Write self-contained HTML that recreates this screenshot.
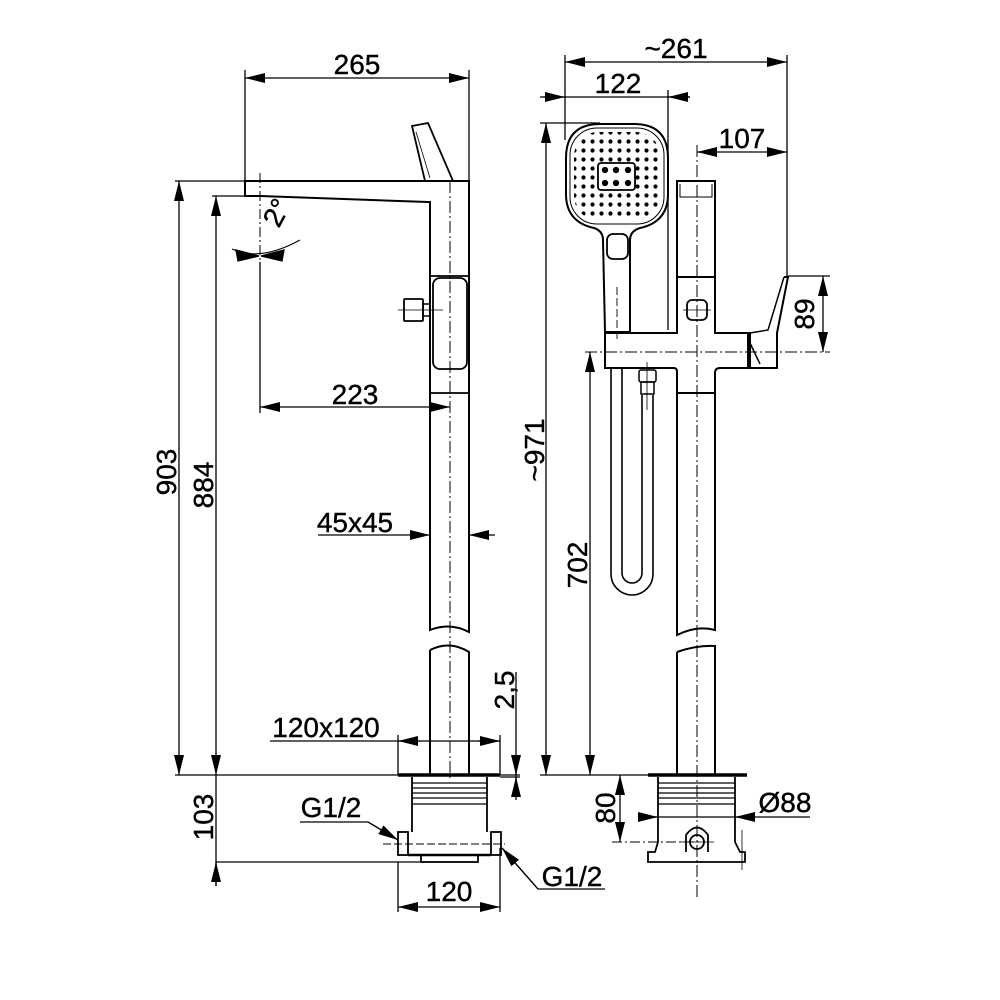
<!DOCTYPE html>
<html><head><meta charset="utf-8"><style>
html,body{margin:0;padding:0;background:#fff;}
svg{display:block;}
text{font-family:"Liberation Sans",Arial,sans-serif;font-size:28px;fill:#000;stroke:#000;stroke-width:0.4;}
</style></head><body>
<svg width="1000" height="1000" viewBox="0 0 1000 1000" xmlns="http://www.w3.org/2000/svg">
<defs>
<marker id="a" viewBox="0 0 20 10" refX="20" refY="5" markerUnits="userSpaceOnUse" markerWidth="20" markerHeight="10" orient="auto-start-reverse"><path d="M0,0L20,5L0,10z" fill="#000"/></marker>
<pattern id="dots" x="570" y="128" width="9" height="9" patternUnits="userSpaceOnUse"><circle cx="4.5" cy="4.5" r="2.1" fill="#000"/></pattern>
<clipPath id="hc"><rect x="574" y="132" width="86" height="88" rx="24"/></clipPath>
</defs>
<g fill="none" stroke="#000" stroke-width="1.3">
<!-- ===== LEFT VIEW ===== -->
<line x1="245" y1="70" x2="245" y2="196"/>
<line x1="469" y1="70" x2="469" y2="181"/>
<line x1="245" y1="78" x2="469" y2="78" marker-start="url(#a)" marker-end="url(#a)"/>
<path d="M412,126 L428,123 L453,181 L425,181 Z" stroke-width="1.8"/>
<path d="M416,132 L430,178" stroke-width="0.8"/>
<path d="M245,181 L469,181 L469,632 Q450,622 430,630 L430,202 L428,202 L260,196 L245,196 Z" stroke-width="2"/>
<path d="M430,650 Q450,640 469,652 L469,775 M430,650 L430,775" stroke-width="2"/>
<line x1="450" y1="181" x2="450" y2="780" stroke-dasharray="12 3 2 3" stroke-width="1"/>
<line x1="430" y1="276" x2="469" y2="276" stroke-width="1.8"/>
<line x1="430" y1="393" x2="469" y2="393" stroke-width="1.8"/>
<rect x="433" y="278" width="34" height="91" rx="7" stroke-width="1.8"/>
<rect x="404" y="299" width="19" height="22" rx="1" stroke-width="1.8"/>
<rect x="423" y="304" width="7" height="12" stroke-width="1.5"/>
<line x1="398" y1="310" x2="443" y2="310" stroke-width="0.8"/>
<line x1="260" y1="173" x2="260" y2="262" stroke-dasharray="10 3 2 3" stroke-width="1"/>
<path d="M232,249 Q260,262 300,240" stroke-width="1"/>
<path d="M236,250 L259,256 L238,261Z M284,250 L261,256 L282,261Z" fill="#000"/>
<line x1="260" y1="262" x2="260" y2="413"/>
<line x1="260" y1="407" x2="450" y2="407" marker-start="url(#a)" marker-end="url(#a)"/>
<line x1="175" y1="181" x2="245" y2="181"/>
<line x1="212" y1="196" x2="245" y2="196"/>
<line x1="179" y1="181" x2="179" y2="775" marker-start="url(#a)" marker-end="url(#a)"/>
<line x1="216" y1="196" x2="216" y2="775" marker-start="url(#a)" marker-end="url(#a)"/>
<line x1="216" y1="775" x2="216" y2="886"/>
<line x1="216" y1="886" x2="216" y2="862" marker-end="url(#a)"/>
<line x1="175" y1="775" x2="398" y2="775"/>
<line x1="216" y1="862" x2="420" y2="862"/>
<line x1="318" y1="535" x2="430" y2="535" marker-end="url(#a)"/>
<line x1="495" y1="535" x2="469" y2="535" marker-end="url(#a)"/>
<line x1="270" y1="741" x2="500" y2="741"/>
<line x1="420" y1="741" x2="398" y2="741" marker-end="url(#a)"/>
<line x1="478" y1="741" x2="500" y2="741" marker-end="url(#a)"/>
<line x1="398" y1="735" x2="398" y2="775"/>
<line x1="500" y1="735" x2="500" y2="775"/>
<line x1="398" y1="775" x2="500" y2="775" stroke-width="3.5"/>
<line x1="500" y1="775" x2="520" y2="775"/>
<line x1="500" y1="777" x2="520" y2="777"/>
<path d="M412,777 L412,832 M487,777 L487,832" stroke-width="1.8"/>
<path d="M412,783 H487 M412,788 H487 M412,793 H487 M412,798 H487 M412,804 H487" stroke-width="1.2"/>
<rect x="398" y="832" width="10" height="23" stroke-width="1.8"/>
<rect x="491" y="832" width="10" height="23" stroke-width="1.8"/>
<path d="M408,855 H491" stroke-width="2.5"/>
<rect x="421" y="855" width="57" height="7" stroke-width="1.8"/>
<line x1="383" y1="844" x2="505" y2="844" stroke-dasharray="8 3" stroke-width="0.9"/>
<line x1="516" y1="672" x2="516" y2="800"/>
<line x1="516" y1="755" x2="516" y2="775" marker-end="url(#a)"/>
<line x1="516" y1="797" x2="516" y2="777" marker-end="url(#a)"/>
<path d="M300,822 H368 L398,840"/>
<line x1="368" y1="822" x2="398" y2="840" marker-end="url(#a)"/>
<path d="M605,889 H538 L502,848"/>
<line x1="538" y1="889" x2="502" y2="848" marker-end="url(#a)"/>
<line x1="398" y1="862" x2="398" y2="912"/>
<line x1="500" y1="848" x2="500" y2="912"/>
<line x1="398" y1="907" x2="500" y2="907" marker-start="url(#a)" marker-end="url(#a)"/>

<!-- ===== RIGHT VIEW ===== -->
<line x1="565" y1="55" x2="565" y2="140"/>
<line x1="787" y1="55" x2="787" y2="277"/>
<line x1="565" y1="62" x2="787" y2="62" marker-start="url(#a)" marker-end="url(#a)"/>
<line x1="668" y1="90" x2="668" y2="330"/>
<line x1="540" y1="97" x2="690" y2="97"/>
<line x1="543" y1="97" x2="565" y2="97" marker-end="url(#a)"/>
<line x1="690" y1="97" x2="668" y2="97" marker-end="url(#a)"/>
<line x1="697" y1="152" x2="787" y2="152" marker-start="url(#a)" marker-end="url(#a)"/>
<line x1="697" y1="145" x2="697" y2="900" stroke-dasharray="12 3 2 3" stroke-width="1"/>
<line x1="540" y1="123" x2="600" y2="123"/>
<line x1="546" y1="123" x2="546" y2="775" marker-start="url(#a)" marker-end="url(#a)"/>
<path d="M600,124 H634 Q668,124 668,158 V194 Q668,222 640,228 Q630,231 630,240 L630,332 H605 L603,240 Q603,231 594,228 Q566,222 566,194 V158 Q566,124 600,124 Z" stroke-width="2"/>
<rect x="570" y="128" width="94" height="96" rx="27" stroke-width="1"/>
<rect x="569" y="127" width="96" height="98" fill="url(#dots)" stroke="none" clip-path="url(#hc)"/>
<rect x="598" y="163" width="37" height="27" rx="3" fill="#fff" stroke-width="1.8"/>
<circle cx="605" cy="170" r="2.5" fill="#000"/><circle cx="616" cy="170" r="2.5" fill="#000"/><circle cx="628" cy="170" r="2.5" fill="#000"/>
<circle cx="605" cy="183" r="2.5" fill="#000"/><circle cx="616" cy="183" r="2.5" fill="#000"/><circle cx="628" cy="183" r="2.5" fill="#000"/>
<rect x="607" y="234" width="21" height="25" rx="6" stroke-width="1.8"/>
<line x1="617" y1="287" x2="617" y2="340" stroke-dasharray="8 3" stroke-width="0.9"/>
<rect x="677" y="181" width="38" height="96" stroke-width="2"/>
<path d="M680,184 V197 H712 V184" stroke-width="1"/>
<path d="M677,277 V333 H605 V368 H674 Q677,368 677,372 V393 M715,277 V333 H748 V368 H720 Q715,368 715,373 V393" stroke-width="2"/>
<path d="M677,393 H715 M677,393 V635 Q697,625 715,630 V393" stroke-width="2"/>
<path d="M677,652 Q697,645 715,646 V775 M677,652 V775" stroke-width="2"/>
<rect x="687" y="300" width="20" height="20" rx="5" stroke-width="1.8"/>
<line x1="683" y1="310" x2="711" y2="310" stroke-width="0.8"/>
<path d="M784,277 H788 L777,333 V368 H750 V333 L748,333" stroke-width="2"/>
<path d="M784,277 L768,330 L750,333 M750,343 L760,364" stroke-width="1.5"/>
<line x1="788" y1="276" x2="830" y2="276"/>
<line x1="823" y1="276" x2="823" y2="352" marker-start="url(#a)" marker-end="url(#a)"/>
<line x1="585" y1="352" x2="830" y2="352" stroke-dasharray="12 3 2 3" stroke-width="1"/>
<line x1="590" y1="352" x2="590" y2="775" marker-start="url(#a)" marker-end="url(#a)"/>
<path d="M611,368 V574 A21,21 0 0 0 653,574 V395" stroke-width="1.6"/>
<path d="M622,368 V573 A10,10 0 0 0 642,573 V395" stroke-width="1.6"/>
<rect x="639" y="370" width="17" height="12" rx="2" stroke-width="1.5"/>
<rect x="641" y="382" width="13" height="12" stroke-width="1.5"/>
<line x1="647" y1="362" x2="647" y2="410" stroke-width="0.8"/>
<line x1="540" y1="775" x2="648" y2="775"/>
<line x1="648" y1="775" x2="747" y2="775" stroke-width="3.5"/>
<path d="M658,777 V842 M735,777 V842" stroke-width="1.8"/>
<path d="M658,783 H735 M658,788 H735 M658,793 H735 M658,798 H735 M658,804 H735" stroke-width="1.2"/>
<path d="M658,842 L655,852 H648 V862 H745 V852 H740 L735,842" stroke-width="1.8"/>
<path d="M686,852 V835 Q697,820 708,835 V852" stroke-width="1.8"/>
<circle cx="697" cy="842" r="7" stroke-width="1.8"/>
<line x1="680" y1="842" x2="714" y2="842" stroke-width="0.8"/>
<line x1="742" y1="830" x2="742" y2="870" stroke-width="0.8"/>
<line x1="612" y1="842" x2="700" y2="842" stroke-dasharray="10 3 2 3" stroke-width="1"/>
<line x1="620" y1="775" x2="620" y2="842" marker-start="url(#a)" marker-end="url(#a)"/>
<line x1="638" y1="817" x2="810" y2="817"/>
<line x1="638" y1="817" x2="658" y2="817" marker-end="url(#a)"/>
<line x1="755" y1="817" x2="735" y2="817" marker-end="url(#a)"/>
</g>
<text x="357" y="74" text-anchor="middle">265</text>
<text x="355" y="404" text-anchor="middle">223</text>
<text x="355" y="532" text-anchor="middle">45x45</text>
<text x="326" y="737" text-anchor="middle">120x120</text>
<text x="331" y="817" text-anchor="middle">G1/2</text>
<text x="572" y="886" text-anchor="middle">G1/2</text>
<text x="449" y="901" text-anchor="middle">120</text>
<text transform="translate(285,217) rotate(-62)" text-anchor="middle">2°</text>
<text transform="translate(176,472) rotate(-90)" text-anchor="middle">903</text>
<text transform="translate(213,485) rotate(-90)" text-anchor="middle">884</text>
<text transform="translate(213,817) rotate(-90)" text-anchor="middle">103</text>
<text transform="translate(514,690) rotate(-90)" text-anchor="middle">2,5</text>
<text x="676" y="58" text-anchor="middle">~261</text>
<text x="618" y="93" text-anchor="middle">122</text>
<text x="742" y="148" text-anchor="middle">107</text>
<text transform="translate(544,450) rotate(-90)" text-anchor="middle">~971</text>
<text transform="translate(587,565) rotate(-90)" text-anchor="middle">702</text>
<text transform="translate(814,314) rotate(-90)" text-anchor="middle">89</text>
<text transform="translate(615,808) rotate(-90)" text-anchor="middle">80</text>
<text x="785" y="812" text-anchor="middle">Ø88</text>
</svg>
</body></html>
